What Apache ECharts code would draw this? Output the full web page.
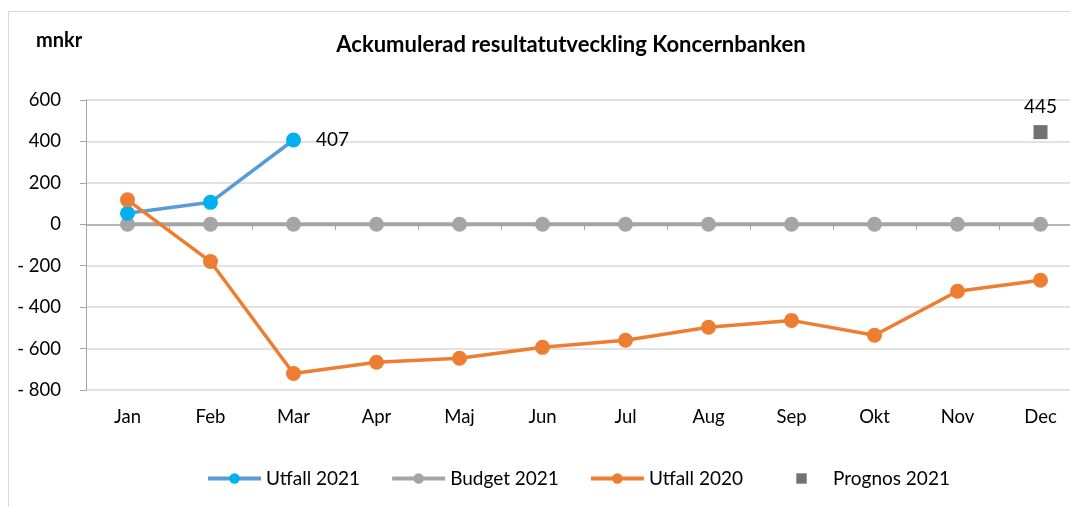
<!DOCTYPE html>
<html>
<head>
<meta charset="utf-8">
<script src="https://cdn.jsdelivr.net/npm/echarts@6/dist/echarts.min.js"></script>
<style>
  html, body { margin: 0; padding: 0; background: #fff; }
  #main { width: 1070px; height: 507px; }
</style>
</head>
<body>
<div id="main"></div>
<script>
// data
var months = ['Jan', 'Feb', 'Mar', 'Apr', 'Maj', 'Jun', 'Jul', 'Aug', 'Sep', 'Okt', 'Nov', 'Dec'];
var utfall2021 = [53, 106, 407];
var budget2021 = [0, 0, 0, 0, 0, 0, 0, 0, 0, 0, 0, 0];
var utfall2020 = [118, -180, -720, -666, -647, -594, -560, -497, -464, -536, -323, -270];
var prognos2021 = ['-', '-', '-', '-', '-', '-', '-', '-', '-', '-', '-', 445];
var yTicks = { min: -800, max: 600, step: 200 };

var font = 'Lato, "Open Sans", sans-serif';

var chart = echarts.init(document.getElementById('main'));

chart.setOption({
  animation: false,
  textStyle: { fontFamily: font },
  graphic: [{
    type: 'rect',
    shape: { x: 8.5, y: 11.5, width: 1200, height: 600 },
    style: { fill: 'none', stroke: '#d9d9d9', lineWidth: 1 },
    silent: true
  }, {
    type: 'text',
    left: 36, top: 31,
    style: { text: 'mnkr', font: 'bold 20px ' + font, fill: '#000' }
  }],
  title: {
    text: 'Ackumulerad resultatutveckling Koncernbanken',
    left: 566, top: 29, textAlign: 'center',
    textStyle: { fontFamily: font, fontSize: 22, fontWeight: 'bold', color: '#000' }
  },
  legend: {
    top: 469,
    left: 206,
    padding: 0,
    itemGap: 30,
    itemWidth: 53,
    itemHeight: 13,
    lineStyle: { width: 4 },
    textStyle: { fontFamily: font, fontSize: 19, color: '#000' },
    data: ['Utfall 2021', 'Budget 2021', 'Utfall 2020', 'Prognos 2021']
  },
  grid: { left: 86, top: 100, width: 996, height: 290, outerBoundsMode: 'none' },
  xAxis: [{
    type: 'category',
    data: months,
    boundaryGap: true,
    axisLine: { show: false, onZero: false },
    axisTick: { show: false },
    axisLabel: { color: '#000', fontSize: 18.5, fontFamily: font, margin: 18 }
  }, {
    type: 'category',
    data: months,
    position: 'top',
    boundaryGap: true,
    axisLine: { onZero: true, lineStyle: { color: '#a6a6a6', width: 1.5 } },
    axisTick: { show: true, inside: true, length: 6, lineStyle: { color: '#a6a6a6' } },
    axisLabel: { show: false }
  }],
  yAxis: {
    type: 'value',
    min: yTicks.min, max: yTicks.max, interval: yTicks.step,
    axisLine: { show: true, onZero: false, lineStyle: { color: '#a6a6a6' } },
    axisTick: { show: true, length: 6, lineStyle: { color: '#a6a6a6' } },
    splitLine: { lineStyle: { color: '#d9d9d9', width: 1.5 } },
    axisLabel: {
      color: '#000', fontSize: 18.5, fontFamily: font, margin: 25,
      formatter: function (v) { return v < 0 ? '- ' + Math.abs(v) : String(v); }
    }
  },
  series: [{
    name: 'Utfall 2021',
    type: 'line',
    data: utfall2021,
    z: 3,
    symbol: 'circle', symbolSize: 15,
    lineStyle: { color: '#5b9bd5', width: 3.5 },
    itemStyle: { color: '#00b0f0' },
    label: {
      show: true, position: 'right', distance: 15,
      color: '#000', fontSize: 19, fontFamily: font,
      formatter: function (p) { return p.dataIndex === 2 ? p.value : ''; }
    }
  }, {
    name: 'Budget 2021',
    type: 'line',
    data: budget2021,
    z: 2,
    symbol: 'circle', symbolSize: 15,
    lineStyle: { color: '#a5a5a5', width: 4 },
    itemStyle: { color: '#a5a5a5' }
  }, {
    name: 'Utfall 2020',
    type: 'line',
    data: utfall2020,
    z: 4,
    symbol: 'circle', symbolSize: 15,
    lineStyle: { color: '#ed7d31', width: 3.5 },
    itemStyle: { color: '#ed7d31' }
  }, {
    name: 'Prognos 2021',
    type: 'line',
    data: prognos2021,
    z: 5,
    symbol: 'rect', symbolSize: 14,
    lineStyle: { width: 0, opacity: 0 },
    itemStyle: { color: '#767171' },
    label: {
      show: true, position: 'top', distance: 9,
      color: '#000', fontSize: 19, fontFamily: font
    }
  }]
});
</script>
</body>
</html>
